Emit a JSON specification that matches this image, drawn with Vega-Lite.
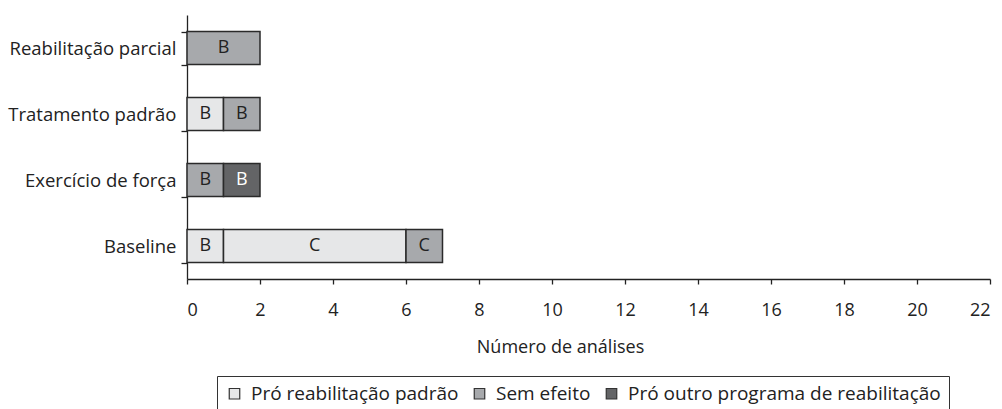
{
  "$schema": "https://vega.github.io/schema/vega-lite/v6.json",
  "autosize": "none",
  "width": 803,
  "height": 264,
  "padding": {"left": 187, "top": 15, "right": 12, "bottom": 130},
  "background": "white",
  "config": {
    "font": "Open Sans",
    "view": {"stroke": null},
    "axis": {"grid": false, "domainColor": "#222", "tickColor": "#222", "labelColor": "#222", "titleColor": "#222", "labelFont": "Open Sans", "titleFont": "Open Sans", "domainWidth": 1.3, "tickWidth": 1.3}
  },
  "data": {
    "values": [
      {"grupo": "Reabilitação parcial", "efeito": "Sem efeito", "n": 2, "nivel": "B", "ordem": 1},
      {"grupo": "Tratamento padrão", "efeito": "Pró reabilitação padrão", "n": 1, "nivel": "B", "ordem": 1},
      {"grupo": "Tratamento padrão", "efeito": "Sem efeito", "n": 1, "nivel": "B", "ordem": 2},
      {"grupo": "Exercício de força", "efeito": "Sem efeito", "n": 1, "nivel": "B", "ordem": 1},
      {"grupo": "Exercício de força", "efeito": "Pró outro programa de reabilitação", "n": 1, "nivel": "B", "ordem": 2},
      {"grupo": "Baseline", "efeito": "Pró reabilitação padrão", "n": 1, "nivel": "B", "ordem": 1},
      {"grupo": "Baseline", "efeito": "Pró reabilitação padrão", "n": 5, "nivel": "C", "ordem": 2},
      {"grupo": "Baseline", "efeito": "Sem efeito", "n": 1, "nivel": "C", "ordem": 3}
    ]
  },
  "encoding": {
    "y": {
      "field": "grupo", "type": "nominal",
      "sort": ["Reabilitação parcial", "Tratamento padrão", "Exercício de força", "Baseline"],
      "scale": {"paddingInner": 0.5, "paddingOuter": 0.25},
      "axis": {"title": null, "labelFontSize": 18.5, "tickSize": 6, "labelPadding": 5, "tickBand": "extent"}
    }
  },
  "layer": [
    {
      "mark": {"type": "bar", "stroke": "#2a2a2a", "strokeWidth": 1.5},
      "encoding": {
        "x": {
          "field": "n", "type": "quantitative", "stack": "zero",
          "scale": {"domain": [0, 22], "nice": false},
          "axis": {"values": [0, 2, 4, 6, 8, 10, 12, 14, 16, 18, 20, 22], "title": "Número de análises", "labelFontSize": 18, "tickSize": 5, "labelPadding": 17, "titleFontSize": 18, "titleFontWeight": "normal", "titlePadding": 19, "titleX": 373, "titleAlign": "center"}
        },
        "order": {"field": "ordem", "type": "quantitative"},
        "color": {
          "field": "efeito", "type": "nominal",
          "scale": {"domain": ["Pró reabilitação padrão", "Sem efeito", "Pró outro programa de reabilitação"], "range": ["#e6e7e8", "#a7a9ac", "#636466"]},
          "legend": {
            "title": null, "orient": "none", "direction": "horizontal",
            "legendX": 30, "legendY": 361,
            "strokeColor": "#333", "padding": 8,
            "symbolType": "square", "symbolSize": 110, "symbolStrokeColor": "#333", "symbolStrokeWidth": 1.2, "symbolOffset": 0,
            "labelFontSize": 19, "labelFont": "Open Sans", "labelColor": "#222", "labelOffset": 7, "columnPadding": 11, "labelLimit": 400
          }
        }
      }
    },
    {
      "mark": {"type": "text", "fontSize": 18, "font": "Open Sans", "baseline": "middle", "align": "center"},
      "encoding": {
        "x": {"field": "n", "type": "quantitative", "stack": "zero", "bandPosition": 0.5},
        "order": {"field": "ordem", "type": "quantitative"},
        "text": {"field": "nivel"},
        "color": {
          "condition": {"test": "datum.efeito === 'Pró outro programa de reabilitação'", "value": "#ffffff"},
          "value": "#222222"
        }
      }
    }
  ]
}
